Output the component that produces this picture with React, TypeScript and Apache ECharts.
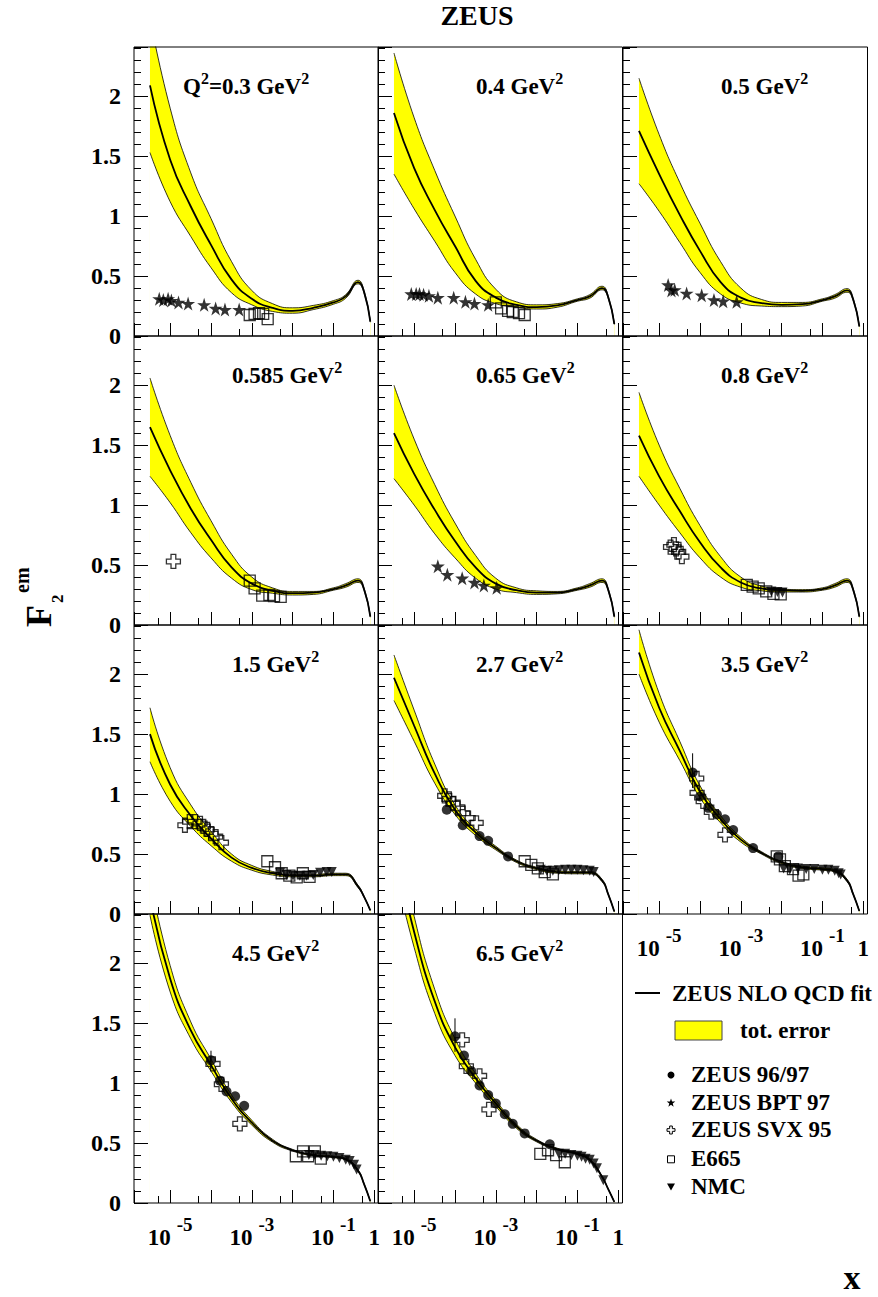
import React, { useEffect, useRef } from "react";
import * as echarts from "echarts";

const FONT = "'Liberation Serif', 'Times New Roman', Times, serif";

// ---------- axes ----------
const X_MIN = 1.3e-6;
const X_MAX = 1.27;
const Y_MAX = 2.41;
const X_LABEL_DECADES = [-5, -3, -1, 0];

// ---------- panel labels (Q^2 in GeV^2) ----------
const Q2_VALUES = ["0.3", "0.4", "0.5", "0.585", "0.65", "0.8", "1.5", "2.7", "3.5", "4.5", "6.5"];

// ---------- x grid of the fit curves ----------
const X_GRID = [3.2e-6, 1e-5, 3.2e-5, 1e-4, 3.2e-4, 1e-3, 3.2e-3, 0.01, 0.032, 0.1, 0.2, 0.4, 0.56, 0.8];

// ---------- ZEUS NLO QCD fit: central, upper and lower error edges ----------
const MID_1 = [2.09, 1.47, 1.08, 0.76, 0.47, 0.31, 0.235, 0.21, 0.235, 0.28, 0.33, 0.45, 0.37, 0.12];
const HI_1 = [2.65, 1.90, 1.36, 0.98, 0.62, 0.38, 0.27, 0.235, 0.255, 0.295, 0.345, 0.465, 0.38, 0.125];
const LO_1 = [1.53, 1.12, 0.83, 0.57, 0.36, 0.26, 0.205, 0.19, 0.22, 0.265, 0.315, 0.435, 0.36, 0.115];

const MID_2 = [1.86, 1.40, 1.05, 0.75, 0.46, 0.32, 0.26, 0.24, 0.255, 0.30, 0.33, 0.40, 0.33, 0.10];
const HI_2 = [2.36, 1.82, 1.38, 1.00, 0.64, 0.39, 0.285, 0.26, 0.27, 0.31, 0.345, 0.415, 0.34, 0.105];
const LO_2 = [1.35, 1.06, 0.79, 0.53, 0.35, 0.27, 0.24, 0.225, 0.24, 0.29, 0.315, 0.385, 0.32, 0.095];

const MID_3 = [1.71, 1.35, 1.01, 0.71, 0.45, 0.32, 0.275, 0.26, 0.265, 0.30, 0.33, 0.38, 0.31, 0.08];
const HI_3 = [2.15, 1.68, 1.28, 0.94, 0.62, 0.40, 0.305, 0.28, 0.28, 0.31, 0.345, 0.395, 0.32, 0.085];
const LO_3 = [1.27, 1.04, 0.78, 0.53, 0.35, 0.275, 0.25, 0.245, 0.25, 0.29, 0.315, 0.365, 0.30, 0.075];

const MID_4 = [1.65, 1.29, 0.97, 0.71, 0.48, 0.345, 0.285, 0.265, 0.27, 0.30, 0.33, 0.37, 0.30, 0.07];
const HI_4 = [2.06, 1.58, 1.19, 0.87, 0.59, 0.40, 0.31, 0.28, 0.28, 0.31, 0.345, 0.385, 0.31, 0.075];
const LO_4 = [1.24, 1.02, 0.77, 0.56, 0.39, 0.295, 0.265, 0.25, 0.255, 0.29, 0.315, 0.355, 0.29, 0.065];

const MID_5 = [1.60, 1.26, 0.96, 0.70, 0.48, 0.345, 0.29, 0.27, 0.27, 0.30, 0.33, 0.37, 0.30, 0.07];
const HI_5 = [2.00, 1.55, 1.17, 0.85, 0.58, 0.39, 0.31, 0.285, 0.28, 0.31, 0.345, 0.385, 0.31, 0.075];
const LO_5 = [1.22, 1.00, 0.76, 0.56, 0.39, 0.30, 0.27, 0.255, 0.26, 0.29, 0.315, 0.355, 0.29, 0.065];

const MID_6 = [1.58, 1.24, 0.95, 0.69, 0.48, 0.355, 0.305, 0.29, 0.285, 0.30, 0.33, 0.37, 0.30, 0.07];
const HI_6 = [1.94, 1.50, 1.14, 0.83, 0.57, 0.40, 0.325, 0.30, 0.295, 0.31, 0.345, 0.385, 0.31, 0.075];
const LO_6 = [1.24, 1.00, 0.77, 0.56, 0.40, 0.315, 0.285, 0.275, 0.275, 0.29, 0.315, 0.355, 0.29, 0.065];

const MID_7 = [1.50, 1.08, 0.82, 0.63, 0.47, 0.385, 0.34, 0.32, 0.32, 0.33, 0.33, 0.23, 0.145, 0.03];
const HI_7 = [1.72, 1.22, 0.91, 0.69, 0.50, 0.405, 0.355, 0.33, 0.33, 0.34, 0.34, 0.24, 0.15, 0.032];
const LO_7 = [1.27, 0.94, 0.73, 0.57, 0.44, 0.365, 0.325, 0.31, 0.31, 0.32, 0.32, 0.22, 0.14, 0.028];

const MID_8 = [1.97, 1.57, 1.17, 0.87, 0.68, 0.55, 0.44, 0.38, 0.35, 0.345, 0.345, 0.28, 0.17, 0.02];
const HI_8 = [2.16, 1.70, 1.25, 0.91, 0.705, 0.565, 0.45, 0.39, 0.36, 0.355, 0.355, 0.29, 0.175, 0.022];
const LO_8 = [1.78, 1.44, 1.09, 0.83, 0.655, 0.535, 0.43, 0.37, 0.34, 0.335, 0.335, 0.27, 0.165, 0.018];

const MID_9 = [2.18, 1.72, 1.36, 1.02, 0.79, 0.62, 0.51, 0.43, 0.39, 0.375, 0.36, 0.28, 0.17, 0.025];
const HI_9 = [2.37, 1.84, 1.44, 1.07, 0.82, 0.64, 0.52, 0.44, 0.40, 0.385, 0.37, 0.29, 0.175, 0.027];
const LO_9 = [2.00, 1.60, 1.28, 0.97, 0.76, 0.60, 0.50, 0.42, 0.38, 0.365, 0.35, 0.27, 0.165, 0.023];

const MID_10 = [2.55, 1.87, 1.44, 1.15, 0.87, 0.67, 0.52, 0.44, 0.40, 0.385, 0.365, 0.27, 0.16, 0.015];
const HI_10 = [2.70, 1.98, 1.51, 1.20, 0.90, 0.69, 0.532, 0.447, 0.407, 0.392, 0.372, 0.277, 0.165, 0.017];
const LO_10 = [2.40, 1.76, 1.37, 1.10, 0.84, 0.65, 0.508, 0.433, 0.393, 0.378, 0.358, 0.263, 0.155, 0.013];

const MID_11 = [3.00, 2.26, 1.68, 1.30, 1.04, 0.83, 0.64, 0.52, 0.45, 0.41, 0.36, 0.22, 0.12, 0.01];
const HI_11 = [3.18, 2.39, 1.78, 1.37, 1.08, 0.855, 0.657, 0.53, 0.457, 0.417, 0.367, 0.225, 0.123, 0.012];
const LO_11 = [2.82, 2.13, 1.58, 1.23, 1.00, 0.805, 0.623, 0.51, 0.443, 0.403, 0.353, 0.215, 0.117, 0.008];

// ---------- measurements [x, F2] ----------
const BPT_1 = [[5.4e-6, 0.31], [6.8e-6, 0.30], [8.9e-6, 0.31], [1.07e-5, 0.295], [1.6e-5, 0.28], [2.75e-5, 0.27], [6.8e-5, 0.26], [1.3e-4, 0.23], [2.2e-4, 0.22], [4.9e-4, 0.22]];
const E665_1 = [[8.9e-4, 0.175], [1.17e-3, 0.185], [1.5e-3, 0.19], [1.9e-3, 0.185], [2.45e-3, 0.14]];

const BPT_2 = [[8.5e-6, 0.35], [1.12e-5, 0.35], [1.35e-5, 0.35], [1.7e-5, 0.345], [2.3e-5, 0.335], [3.8e-5, 0.32], [9.3e-5, 0.32], [1.8e-4, 0.285], [3.0e-4, 0.27], [6.5e-4, 0.26]];
const E665_2 = [[1.0e-3, 0.28], [1.35e-3, 0.23], [2.0e-3, 0.21], [2.6e-3, 0.20], [3.7e-3, 0.19], [5.1e-3, 0.175]];

const BPT_3 = [[1.66e-5, 0.425], [2.0e-5, 0.38], [2.4e-5, 0.385], [4.7e-5, 0.355], [1.1e-4, 0.34], [2.2e-4, 0.30], [3.7e-4, 0.29], [7.9e-4, 0.285]];

const SVX_4 = [[1.2e-5, 0.53]];
const E665_4 = [[8.9e-4, 0.37], [1.17e-3, 0.305], [1.8e-3, 0.245], [2.7e-3, 0.25], [3.5e-3, 0.24], [5.1e-3, 0.235]];

const BPT_5 = [[3.8e-5, 0.49], [6.5e-5, 0.42], [1.5e-4, 0.39], [3.0e-4, 0.355], [5.1e-4, 0.33], [1.05e-3, 0.31]];

const SVX_6 = [[1.9e-5, 0.65], [2.3e-5, 0.67], [2.6e-5, 0.635], [3.0e-5, 0.61], [3.6e-5, 0.57]];
const E665_6 = [[1.4e-3, 0.335], [1.95e-3, 0.32], [2.75e-3, 0.305], [4.2e-3, 0.28], [6.3e-3, 0.26], [9.5e-3, 0.255]];
const NMC_6 = [[5.6e-3, 0.28], [7.9e-3, 0.275], [0.0105, 0.27]];

const SVX_7 = [[2.3e-5, 0.74], [3.0e-5, 0.77], [4.1e-5, 0.77], [5.4e-5, 0.755], [6.5e-5, 0.73], [8.1e-5, 0.705], [1.0e-4, 0.67], [1.3e-4, 0.645], [1.8e-4, 0.595]];
const E665_7 = [[2.4e-3, 0.44], [3.7e-3, 0.39], [5.4e-3, 0.34], [8.3e-3, 0.32], [0.0126, 0.305], [0.0178, 0.34], [0.026, 0.31]];
const NMC_7 = [[4.9e-3, 0.345], [7.1e-3, 0.325], [0.0102, 0.32], [0.015, 0.32], [0.022, 0.32], [0.032, 0.325], [0.047, 0.345], [0.068, 0.35], [0.091, 0.35]];

const ZEUS_8 = [[6.3e-5, 0.87], [1.55e-4, 0.74], [4.0e-4, 0.65], [6.5e-4, 0.61], [2.0e-3, 0.48]];
const SVX_8 = [[5.6e-5, 0.985], [7.1e-5, 0.96], [8.9e-5, 0.92], [1.17e-4, 0.89], [1.55e-4, 0.84], [2.1e-4, 0.80], [3.3e-4, 0.76]];
const E665_8 = [[5.1e-3, 0.44], [7.4e-3, 0.41], [0.0107, 0.38], [0.0158, 0.35], [0.025, 0.33]];
const NMC_8 = [[0.0126, 0.37], [0.0178, 0.36], [0.025, 0.36], [0.035, 0.365], [0.05, 0.37], [0.071, 0.37], [0.1, 0.37], [0.14, 0.365], [0.2, 0.36], [0.25, 0.35]];

const ZEUS_9 = [[6.6e-5, 1.18], [1.0e-4, 0.98], [1.6e-4, 0.885], [2.6e-4, 0.83], [4.1e-4, 0.79], [6.5e-4, 0.70], [2.0e-3, 0.55], [8.3e-3, 0.48]];
const SVX_9 = [[8.3e-5, 1.13], [8.5e-5, 1.01], [1.2e-4, 0.94], [1.9e-4, 0.85], [4.1e-4, 0.66]];
const E665_9 = [[7.6e-3, 0.48], [9.1e-3, 0.455], [0.012, 0.40], [0.019, 0.375], [0.026, 0.32], [0.034, 0.33]];
const NMC_9 = [[0.0112, 0.38], [0.0158, 0.37], [0.025, 0.38], [0.04, 0.375], [0.063, 0.375], [0.1, 0.37], [0.14, 0.37], [0.2, 0.36], [0.25, 0.34], [0.28, 0.33]];
const ERR_9 = [[6.6e-5, 1.05, 1.34]];

const ZEUS_10 = [[1.0e-4, 1.19], [1.66e-4, 1.02], [2.4e-4, 0.93], [3.9e-4, 0.89], [6.5e-4, 0.81]];
const SVX_10 = [[1.12e-4, 1.16], [1.8e-4, 0.99], [5.1e-4, 0.66]];
const E665_10 = [[0.012, 0.39], [0.018, 0.43], [0.024, 0.39], [0.035, 0.43], [0.049, 0.37]];
const NMC_10 = [[0.025, 0.40], [0.035, 0.40], [0.05, 0.395], [0.071, 0.39], [0.1, 0.385], [0.14, 0.375], [0.2, 0.36], [0.25, 0.35], [0.32, 0.32], [0.37, 0.28]];
const ERR_10 = [[1.0e-4, 1.12, 1.27]];

const ZEUS_11 = [[1.0e-4, 1.39], [1.66e-4, 1.23], [2.5e-4, 1.10], [4.0e-4, 0.98], [6.5e-4, 0.90], [1.0e-3, 0.83], [1.66e-3, 0.74], [2.6e-3, 0.66], [5.1e-3, 0.58], [0.021, 0.49]];
const SVX_11 = [[1.5e-4, 1.36], [1.9e-4, 1.14], [4.0e-4, 1.06], [6.8e-4, 0.78]];
const E665_11 = [[0.0123, 0.41], [0.019, 0.44], [0.03, 0.40], [0.049, 0.34]];
const NMC_11 = [[0.035, 0.41], [0.05, 0.41], [0.071, 0.40], [0.1, 0.395], [0.126, 0.385], [0.158, 0.37], [0.2, 0.36], [0.25, 0.33], [0.3, 0.29], [0.43, 0.19]];
const ERR_11 = [[1.0e-4, 1.26, 1.54]];

const NONE: number[][] = [];

const PANELS = [
  { mid: MID_1, hi: HI_1, lo: LO_1, zeus: NONE, bpt: BPT_1, svx: NONE, e665: E665_1, nmc: NONE, err: NONE },
  { mid: MID_2, hi: HI_2, lo: LO_2, zeus: NONE, bpt: BPT_2, svx: NONE, e665: E665_2, nmc: NONE, err: NONE },
  { mid: MID_3, hi: HI_3, lo: LO_3, zeus: NONE, bpt: BPT_3, svx: NONE, e665: NONE, nmc: NONE, err: NONE },
  { mid: MID_4, hi: HI_4, lo: LO_4, zeus: NONE, bpt: NONE, svx: SVX_4, e665: E665_4, nmc: NONE, err: NONE },
  { mid: MID_5, hi: HI_5, lo: LO_5, zeus: NONE, bpt: BPT_5, svx: NONE, e665: NONE, nmc: NONE, err: NONE },
  { mid: MID_6, hi: HI_6, lo: LO_6, zeus: NONE, bpt: NONE, svx: SVX_6, e665: E665_6, nmc: NMC_6, err: NONE },
  { mid: MID_7, hi: HI_7, lo: LO_7, zeus: NONE, bpt: NONE, svx: SVX_7, e665: E665_7, nmc: NMC_7, err: NONE },
  { mid: MID_8, hi: HI_8, lo: LO_8, zeus: ZEUS_8, bpt: NONE, svx: SVX_8, e665: E665_8, nmc: NMC_8, err: NONE },
  { mid: MID_9, hi: HI_9, lo: LO_9, zeus: ZEUS_9, bpt: NONE, svx: SVX_9, e665: E665_9, nmc: NMC_9, err: ERR_9 },
  { mid: MID_10, hi: HI_10, lo: LO_10, zeus: ZEUS_10, bpt: NONE, svx: SVX_10, e665: E665_10, nmc: NMC_10, err: ERR_10 },
  { mid: MID_11, hi: HI_11, lo: LO_11, zeus: ZEUS_11, bpt: NONE, svx: SVX_11, e665: E665_11, nmc: NMC_11, err: ERR_11 },
];

// ---------- layout ----------
const COL_LEFT = [134, 378, 623];
const ROW_TOP = [47, 336, 625, 914];
const CELL_W = 244.5;
const CELL_H = 289;

const STAR = "path://M50,0 L61.2,34.5 L97.6,34.5 L68.2,55.9 L79.4,90.5 L50,69.1 L20.6,90.5 L31.8,55.9 L2.4,34.5 L38.8,34.5 Z";
const CROSS = "path://M33,0 L67,0 L67,33 L100,33 L100,67 L67,67 L67,100 L33,100 L33,67 L0,67 L0,33 L33,33 Z";
const TRI_DOWN = "path://M0,0 L100,0 L50,87 Z";

const X_RICH = {
  b: { fontSize: 23, fontWeight: "bold", fontFamily: FONT, color: "#000", lineHeight: 34, verticalAlign: "bottom" },
  s: { fontSize: 19, fontWeight: "bold", fontFamily: FONT, color: "#000", lineHeight: 19, verticalAlign: "top", padding: [0, 0, 0, 6] },
};

const LABEL_RICH = {
  n: { fontSize: 23, fontWeight: "bold", fontFamily: FONT, fill: "#000", lineHeight: 28, verticalAlign: "bottom" },
  s: { fontSize: 16, fontWeight: "bold", fontFamily: FONT, fill: "#000", lineHeight: 16, verticalAlign: "top" },
};

function xLabel(v: number) {
  const e = Math.log10(v);
  const r = Math.round(e);
  if (Math.abs(e - r) > 1e-3) return "";
  if (X_LABEL_DECADES.indexOf(r) < 0) return "";
  if (r === 0) return "{b|1}";
  return "{b|10}{s|" + r + "}";
}

function yLabel(v: number) {
  if (Math.abs(v) < 1e-9) return "0";
  const k = v * 2;
  if (Math.abs(k - Math.round(k)) > 1e-6) return "";
  return String(Math.round(k) / 2);
}

function starPoints(cx: number, cy: number, R: number) {
  const pts: number[][] = [];
  for (let k = 0; k < 10; k++) {
    const ang = -Math.PI / 2 + (k * Math.PI) / 5;
    const rr = k % 2 === 0 ? R : R * 0.4;
    pts.push([cx + rr * Math.cos(ang), cy + rr * Math.sin(ang)]);
  }
  return pts;
}

function crossPoints(cx: number, cy: number, h: number) {
  const a = h / 3;
  return [
    [cx - a, cy - h], [cx + a, cy - h], [cx + a, cy - a], [cx + h, cy - a], [cx + h, cy + a], [cx + a, cy + a],
    [cx + a, cy + h], [cx - a, cy + h], [cx - a, cy + a], [cx - h, cy + a], [cx - h, cy - a], [cx - a, cy - a],
  ];
}

function textEl(x: number, y: number, text: string, size: number, align: string = "left") {
  return {
    type: "text",
    x,
    y,
    z: 10,
    style: {
      text,
      fill: "#000",
      fontSize: size,
      fontWeight: "bold",
      fontFamily: FONT,
      align,
      verticalAlign: "middle",
    },
  };
}

function rotatedText(x: number, y: number, text: string, size: number) {
  return {
    type: "text",
    x,
    y,
    rotation: Math.PI / 2,
    z: 10,
    style: { text, fill: "#000", fontSize: size, fontWeight: "bold", fontFamily: FONT, align: "left", verticalAlign: "middle" },
  };
}

function buildOption() {
  const grid: any[] = [];
  const xAxis: any[] = [];
  const yAxis: any[] = [];
  const series: any[] = [];
  const graphic: any[] = [];

  PANELS.forEach((p, i) => {
    const r = Math.floor(i / 3);
    const c = i % 3;
    const left = COL_LEFT[c];
    const top = ROW_TOP[r];
    grid.push({
      left, top, width: CELL_W, height: CELL_H,
      show: true, borderColor: "#000", borderWidth: 1, backgroundColor: "transparent", z: 6,
    });
    const showX = r === 3 || i === 8;
    xAxis.push({
      type: "log", logBase: 10, gridIndex: i, position: "bottom", min: X_MIN, max: X_MAX, z: 6,
      axisLine: { show: false }, splitLine: { show: false }, minorTick: { show: false },
      axisTick: { show: true, inside: true, length: 13, lineStyle: { color: "#000", width: 1 } },
      axisLabel: { show: showX, margin: 12, formatter: xLabel, rich: X_RICH, color: "#000" },
    });
    xAxis.push({
      type: "log", logBase: 10, gridIndex: i, position: "bottom", min: X_MIN / 5, max: X_MAX / 5, z: 6,
      axisLine: { show: false }, splitLine: { show: false }, minorTick: { show: false },
      axisTick: { show: true, inside: true, length: 7, lineStyle: { color: "#000", width: 1 } },
      axisLabel: { show: false },
    });
    yAxis.push({
      type: "value", gridIndex: i, position: "left", min: 0, max: Y_MAX, interval: 0.5, z: 6,
      axisLine: { show: false }, splitLine: { show: false }, minorTick: { show: false },
      axisTick: { show: true, inside: true, length: 14, lineStyle: { color: "#000", width: 1 } },
      axisLabel: {
        show: c === 0, margin: 13, formatter: yLabel, color: "#000",
        fontSize: 24, fontWeight: "bold", fontFamily: FONT,
      },
    });
    yAxis.push({
      type: "value", gridIndex: i, position: "left", min: 0, max: Y_MAX, interval: 0.1, z: 6,
      axisLine: { show: false }, splitLine: { show: false }, minorTick: { show: false },
      axisTick: { show: true, inside: true, length: 7, lineStyle: { color: "#000", width: 1 } },
      axisLabel: { show: false },
    });

    const xi = 2 * i;
    const yi = 2 * i;
    const curve = (arr: number[]) => X_GRID.map((x, k) => [x, arr[k]]);
    const common = { xAxisIndex: xi, yAxisIndex: yi, silent: true, animation: false };

    series.push({
      ...common, type: "line", name: "tot. error", data: curve(p.hi), smooth: 0.5, symbol: "none", z: 1,
      lineStyle: { color: "#000", width: 0.8 }, areaStyle: { color: "#ffff00", opacity: 1, origin: "start" },
    });
    series.push({
      ...common, type: "line", name: "tot. error (low edge)", data: curve(p.lo), smooth: 0.5, symbol: "none", z: 2,
      lineStyle: { color: "#000", width: 0.8 }, areaStyle: { color: "#ffffff", opacity: 1, origin: "start" },
    });
    series.push({
      ...common, type: "line", name: "ZEUS NLO QCD fit", data: curve(p.mid), smooth: 0.5, symbol: "none", z: 3,
      lineStyle: { color: "#000", width: 1.8 },
    });
    if (p.err.length) {
      series.push({
        ...common, type: "custom", name: "error bars", z: 4, data: p.err, encode: { x: 0, y: [1, 2] },
        renderItem: (params: any, api: any) => {
          const a = api.coord([api.value(0), api.value(1)]);
          const b = api.coord([api.value(0), api.value(2)]);
          return { type: "line", shape: { x1: a[0], y1: a[1], x2: b[0], y2: b[1] }, style: { stroke: "#000", lineWidth: 1 } };
        },
      });
    }
    if (p.nmc.length) {
      series.push({
        ...common, type: "scatter", name: "NMC", data: p.nmc, symbol: TRI_DOWN, symbolSize: 10, z: 4,
        itemStyle: { color: "#000" },
      });
    }
    if (p.e665.length) {
      series.push({
        ...common, type: "scatter", name: "E665", data: p.e665, symbol: "rect", symbolSize: 11, z: 5,
        itemStyle: { color: "rgba(255,255,255,0)", borderColor: "#000", borderWidth: 1.3 },
      });
    }
    if (p.svx.length) {
      series.push({
        ...common, type: "scatter", name: "ZEUS SVX 95", data: p.svx, symbol: CROSS, symbolSize: 14, z: 5,
        itemStyle: { color: "rgba(255,255,255,0)", borderColor: "#000", borderWidth: 1.3 },
      });
    }
    if (p.bpt.length) {
      series.push({
        ...common, type: "scatter", name: "ZEUS BPT 97", data: p.bpt, symbol: STAR, symbolSize: 14, z: 5,
        itemStyle: { color: "#000" },
      });
    }
    if (p.zeus.length) {
      series.push({
        ...common, type: "scatter", name: "ZEUS 96/97", data: p.zeus, symbol: "circle", symbolSize: 10, z: 5,
        itemStyle: { color: "#000" },
      });
    }

    const label = i === 0
      ? "{n|Q}{s|2}{n|=" + Q2_VALUES[i] + " GeV}{s|2}"
      : "{n|" + Q2_VALUES[i] + " GeV}{s|2}";
    graphic.push({
      type: "text", x: left + (i === 0 ? 49 : 98), y: top + 37, z: 10,
      style: {
        text: label, rich: LABEL_RICH, fill: "#000", fontSize: 23, fontWeight: "bold", fontFamily: FONT,
        align: "left", verticalAlign: "middle",
      },
    });
  });

  // title
  graphic.push(textEl(477, 15, "ZEUS", 28, "center"));

  // y-axis title F2^em (rotated)
  graphic.push(rotatedText(38.5, 627, "F", 36));
  graphic.push(rotatedText(57.5, 603, "2", 17));
  graphic.push(rotatedText(21.5, 593, "em", 20));

  // x-axis title
  graphic.push(textEl(852, 1277, "x", 34, "center"));

  // legend
  graphic.push({ type: "line", z: 10, shape: { x1: 635, y1: 993, x2: 660, y2: 993 }, style: { stroke: "#000", lineWidth: 2 } });
  graphic.push(textEl(672, 993, "ZEUS NLO QCD fit", 23));
  graphic.push({ type: "rect", z: 10, shape: { x: 675, y: 1021, width: 47, height: 19 }, style: { fill: "#ffff00", stroke: "#444", lineWidth: 1 } });
  graphic.push(textEl(740, 1030, "tot. error", 23));
  graphic.push({ type: "circle", z: 10, shape: { cx: 671, cy: 1075, r: 3.5 }, style: { fill: "#000" } });
  graphic.push(textEl(691, 1074.5, "ZEUS 96/97", 23));
  graphic.push({ type: "polygon", z: 10, shape: { points: starPoints(671, 1103, 4.5) }, style: { fill: "#000" } });
  graphic.push(textEl(691, 1102, "ZEUS BPT 97", 23));
  graphic.push({ type: "polygon", z: 10, shape: { points: crossPoints(671, 1130, 4) }, style: { fill: "#fff", stroke: "#000", lineWidth: 1 } });
  graphic.push(textEl(691, 1129.5, "ZEUS SVX 95", 23));
  graphic.push({ type: "rect", z: 10, shape: { x: 667.5, y: 1155.8, width: 7, height: 7 }, style: { fill: "#fff", stroke: "#000", lineWidth: 1 } });
  graphic.push(textEl(691, 1158.5, "E665", 23));
  graphic.push({ type: "polygon", z: 10, shape: { points: [[667, 1183.5], [675, 1183.5], [671, 1190.5]] }, style: { fill: "#000" } });
  graphic.push(textEl(691, 1186.5, "NMC", 23));

  return {
    animation: false,
    backgroundColor: "#ffffff",
    textStyle: { fontFamily: FONT },
    grid,
    xAxis,
    yAxis,
    series,
    graphic,
  };
}

export default function App() {
  const ref = useRef<HTMLDivElement>(null);
  useEffect(() => {
    document.body.style.margin = "0";
    const chart = echarts.init(ref.current as HTMLDivElement, undefined, { renderer: "svg" });
    chart.setOption(buildOption() as any);
    return () => chart.dispose();
  }, []);
  return <div ref={ref} style={{ width: 878, height: 1297, background: "#fff" }} />;
}
